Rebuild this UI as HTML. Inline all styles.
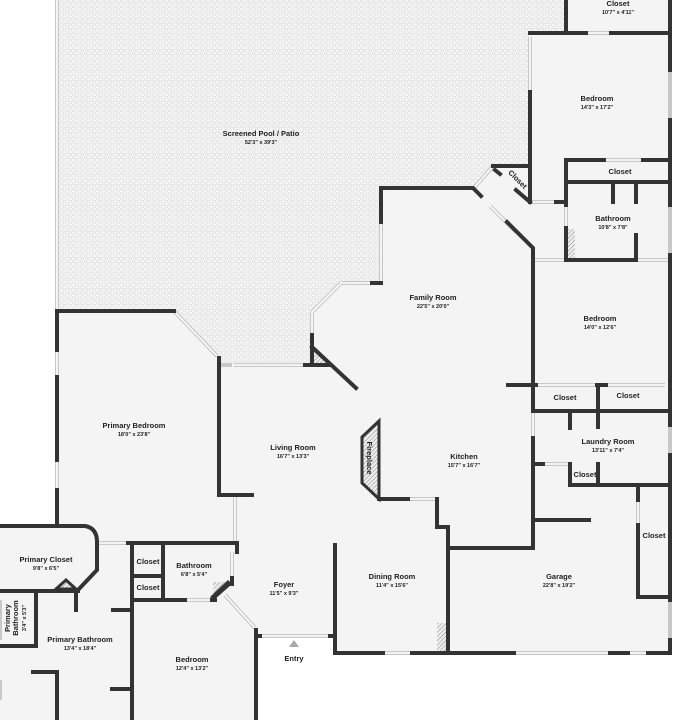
<!DOCTYPE html>
<html><head><meta charset="utf-8"><style>
html,body{margin:0;padding:0;background:#fff;}
svg{display:block;}
text{font-family:"Liberation Sans",sans-serif;fill:#222;text-anchor:middle;}
.t{font-size:7.5px;font-weight:bold;}
.d{font-size:5.5px;font-weight:bold;}
</style></head><body>
<svg width="676" height="720" viewBox="0 0 676 720" xmlns="http://www.w3.org/2000/svg">
<defs>
<pattern id="hex" width="6" height="5.2" patternUnits="userSpaceOnUse">
<rect width="6" height="5.2" fill="#f7f7f7"/>
<circle cx="1.5" cy="1.3" r="1.4" fill="none" stroke="#d8d8d8" stroke-width="0.6"/>
<circle cx="4.5" cy="3.9" r="1.4" fill="none" stroke="#d8d8d8" stroke-width="0.6"/>
</pattern>
<pattern id="hatch" width="3" height="3" patternUnits="userSpaceOnUse" patternTransform="rotate(45)">
<rect width="3" height="3" fill="#eee"/><line x1="0" y1="0" x2="0" y2="3" stroke="#888" stroke-width="1"/>
</pattern>
</defs>
<rect width="676" height="720" fill="#f4f4f4"/>
<rect x="0" y="0" width="57" height="526" fill="#fff"/>
<rect x="256" y="636" width="80" height="84" fill="#fff"/>
<rect x="335" y="654" width="341" height="66" fill="#fff"/>
<rect x="671" y="0" width="5" height="720" fill="#fff"/>
<polygon points="57,0 566,0 566,33 530,33 530,166 493,166 474,188 381,188 381,283 341,283 312,312 312,365 219,365 219,358 174,311 57,311" fill="url(#hex)"/>
<polygon points="379,421 379,499 362,483 362,437" fill="url(#hatch)" stroke="#333" stroke-width="3"/>
<polygon points="312,347 330,365 312,365" fill="url(#hatch)"/>
<polygon points="213,582 232,582 232,584 214,600" fill="url(#hatch)"/>
<rect x="437" y="623" width="10" height="30" fill="url(#hatch)"/>
<rect x="566" y="229" width="9" height="30" fill="url(#hatch)"/>
<polygon points="56,589 66,580 76,589" fill="url(#hatch)"/>
<g stroke="#c8c8c8" stroke-width="4" fill="none">
<path d="M57,0V311 M57,350V377 M57,460V490 M0,600V640 M0,680V700 M174,311L217,356 M234,365H305 M219,365H232 M235,495V543 M225,595L255,628 M232,552V578 M185,600H212 M260,636H330 M381,222V283 M341,283H372 M341,283L312,312 M312,312V335 M474,188L493,166 M490,206L516,232 M533,410V438 M408,499H435 M543,464H570 M638,500V525 M514,653H610 M628,653H648 M383,653H412 M536,385H597 M606,385H665 M586,33H611 M604,160H643 M533,260H565 M566,205V228 M636,260H670 M530,37V92 M670,70V120 M670,205V255 M670,425V455 M670,600V640 M531,202H556 M97,543H128"/>
</g>
<g stroke="#fff" stroke-width="1.6" fill="none">
<path d="M57,0V311 M57,350V377 M57,460V490 M174,311L217,356 M234,365H305 M235,495V543 M225,595L255,628 M232,552V578 M185,600H212 M260,636H330 M381,222V283 M341,283H372 M341,283L312,312 M312,312V335 M474,188L493,166 M490,206L516,232 M533,410V438 M408,499H435 M543,464H570 M638,500V525 M514,653H610 M628,653H648 M383,653H412 M536,385H597 M606,385H665 M586,33H611 M604,160H643 M533,260H565 M566,205V228 M636,260H670 M530,37V92 M531,202H556 M97,543H128"/>
</g>
<g stroke="#333" stroke-width="4" fill="none" stroke-linecap="square">
<path d="M57,311H174 M57,311V350 M57,377V460 M57,490V526"/>
<path d="M219,358V495H252"/>
<path d="M305,365H330 M312,335V365 M312,347L356,388"/>
<path d="M381,222V188H473L481,196 M507,222L533,248V385"/>
<path d="M372,283H381"/>
<path d="M566,0V33 M530,33H586 M611,33H670 M670,0V70 M670,120V205 M670,255V425 M670,455V600 M670,640V653"/>
<path d="M530,92V202 M530,166H493 M495,170L500,174 M516,190L530,202"/>
<path d="M566,160V205 M566,160H604 M643,160H670 M566,182H670 M613,182V202 M636,182V202"/>
<path d="M566,228V260H636 M636,235V260 M556,202H566"/>
<path d="M508,385H536 M597,385H606 M598,385V427 M533,411H670 M570,411V428"/>
<path d="M533,385V410 M533,438V548H448 M533,520H589"/>
<path d="M533,464H543 M570,464V485H598V464 M598,485H670"/>
<path d="M638,485V500 M638,525V597H670"/>
<path d="M335,545V653H383 M412,653H514 M610,653H628 M648,653H670"/>
<path d="M379,499H408 M437,499V527H448V653"/>
<path d="M0,526H85Q97,528 97,542V570L78,590 M0,591H78 M76,591V610"/>
<path d="M36,591V646H0"/>
<path d="M33,672H57V720"/>
<path d="M128,543H237V552 M132,543V720 M163,543V600 M132,576H162 M132,600H185 M212,600H215 M232,578V584"/>
<path d="M113,610H132 M112,689H132"/>
<path d="M256,630V720 M256,636H260 M330,636H335"/>
<path d="M335,545V636"/>
</g>
<polygon points="214,600 232,584 228,580 210,597" fill="#333"/>
<polygon points="56,589 66,580 76,589" fill="none" stroke="#333" stroke-width="3"/>
<polygon points="289,647 294,640 299,647" fill="#aaa"/>
<text class="t" x="261" y="136">Screened Pool / Patio</text><text class="d" x="261" y="144">52'3" x 39'3"</text>
<text class="t" x="618" y="6">Closet</text><text class="d" x="618" y="14">10'7" x 4'11"</text>
<text class="t" x="597" y="101">Bedroom</text><text class="d" x="597" y="109">14'3" x 17'2"</text>
<text class="t" x="620" y="174">Closet</text>
<text class="t" x="613" y="221">Bathroom</text><text class="d" x="613" y="229">10'8" x 7'8"</text>
<text class="t" x="518" y="182" transform="rotate(45 518 179)">Closet</text>
<text class="t" x="433" y="300">Family Room</text><text class="d" x="433" y="308">22'5" x 20'0"</text>
<text class="t" x="600" y="321">Bedroom</text><text class="d" x="600" y="329">14'0" x 12'6"</text>
<text class="t" x="565" y="400">Closet</text><text class="t" x="628" y="398">Closet</text>
<text class="t" x="608" y="444">Laundry Room</text><text class="d" x="608" y="452">13'11" x 7'4"</text>
<text class="t" x="585" y="477">Closet</text>
<text class="t" x="654" y="538">Closet</text>
<text class="t" x="134" y="428">Primary Bedroom</text><text class="d" x="134" y="436">18'0" x 23'8"</text>
<text class="t" x="293" y="450">Living Room</text><text class="d" x="293" y="458">16'7" x 13'3"</text>
<text class="t" x="370" y="461" transform="rotate(90 370 458)">Fireplace</text>
<text class="t" x="464" y="459">Kitchen</text><text class="d" x="464" y="467">15'7" x 16'7"</text>
<text class="t" x="46" y="562">Primary Closet</text><text class="d" x="46" y="570">9'8" x 6'5"</text>
<text class="t" x="148" y="564">Closet</text><text class="t" x="148" y="590">Closet</text>
<text class="t" x="194" y="568">Bathroom</text><text class="d" x="194" y="576">6'8" x 5'4"</text>
<text class="t" x="284" y="587">Foyer</text><text class="d" x="284" y="595">11'5" x 9'3"</text>
<text class="t" x="392" y="579">Dining Room</text><text class="d" x="392" y="587">11'4" x 15'6"</text>
<text class="t" x="559" y="579">Garage</text><text class="d" x="559" y="587">22'8" x 19'2"</text>
<g transform="rotate(-90 16 618)"><text class="t" x="16" y="612">Primary</text><text class="t" x="16" y="620">Bathroom</text><text class="d" x="16" y="628">3'4" x 5'3"</text></g>
<text class="t" x="80" y="642">Primary Bathroom</text><text class="d" x="80" y="650">13'4" x 18'4"</text>
<text class="t" x="192" y="662">Bedroom</text><text class="d" x="192" y="670">12'4" x 13'2"</text>
<text class="t" x="294" y="661">Entry</text>
</svg>
</body></html>
